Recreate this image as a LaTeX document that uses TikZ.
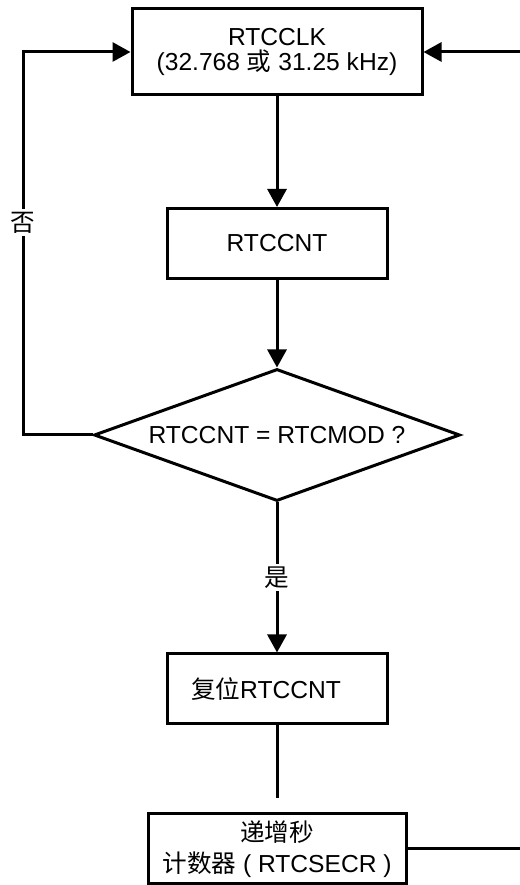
\documentclass[tikz,border=0pt]{standalone}
\usepackage{fontspec}
\setmainfont{Liberation Sans}
\newfontfamily\cjk{Noto Sans CJK SC}
\usepackage{tikz}
\usetikzlibrary{shapes.geometric}
\usetikzlibrary{arrows.meta}
\usetikzlibrary{positioning}

\begin{document}
\begin{tikzpicture}[x=0.5pt, y=0.5pt,
  % boxes of the flow
  box/.style={rectangle, draw=black, line width=1.5pt, align=center, inner sep=0pt,
    font=\fontsize{12.3}{12.5}\selectfont},
  % the test
  test/.style={diamond, draw=black, line width=1.5pt, inner sep=0pt, shape aspect=2.77,
    minimum width=183pt, minimum height=66pt, font=\fontsize{12.3}{12.5}\selectfont},
  % lines and their labels
  arr/.style={line width=1.5pt, -{Triangle[length=9pt, width=9.5pt]}},
  line/.style={line width=1.5pt},
  lbl/.style={fill=white, inner sep=1.5pt, font=\fontsize{12.3}{12.5}\selectfont\cjk}
]
\useasboundingbox (0,0) rectangle (520,885);

% nodes
\node[box, minimum width=145pt, minimum height=43pt] (clk) at (277, 833)
  {RTCCLK\\(32.768 {\cjk 或} 31.25 kHz)};
\node[box, minimum width=110pt, minimum height=35pt] (cnt) at (277, 641.5) {RTCCNT};
\node[test] (cmp) at (277, 450) {RTCCNT = RTCMOD ?};
\node[box, minimum width=110pt, minimum height=35pt, text width=86pt, align=left,
  inner xsep=12pt] (rst) at (277, 196) {{\cjk 复位}RTCCNT};
\node[box, minimum width=129pt, minimum height=35pt,
  font=\fontsize{12.3}{15.5}\selectfont] (sec) at (277, 36)
  {{\cjk 递增秒}\\{\cjk 计数器} ( RTCSECR )};

% free ends at the cut
\coordinate (back) at (23, 833);
\coordinate (cut) at (277, 87);
\coordinate (outR) at (520, 36);
\coordinate (inR) at (520, 833);

% connectors
\draw[arr] (clk) -- (cnt);
\draw[arr] (cnt) -- (cmp);
\draw[arr] (cmp.west) -| node[lbl, pos=0.777] {否} (back) -- (clk.west);
\draw[arr] (cmp.south) -- node[lbl, midway] {是} (rst.north);
\draw[line] (rst) -- (cut);
\draw[line] (sec.east) -- (outR);
\draw[arr] (inR) -- (clk.east);

\end{tikzpicture}
\end{document}
